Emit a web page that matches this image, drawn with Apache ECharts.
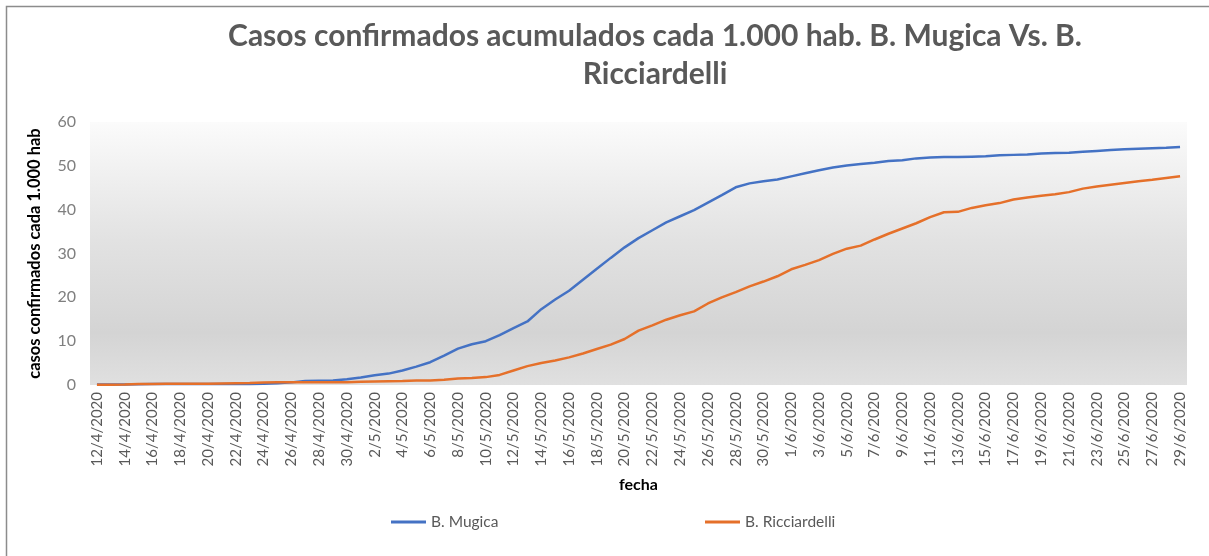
<!DOCTYPE html>
<html style="height: 100%">
<head>
<meta charset="utf-8">
<script src="https://cdn.jsdelivr.net/npm/echarts@6/dist/echarts.min.js"></script>
</head>
<body style="height: 100%; margin: 0; background: #fff">
<div id="container" style="width: 1209px; height: 556px"></div>
<script type="text/javascript">
var fechas = [
  '12/4/2020','13/4/2020','14/4/2020','15/4/2020','16/4/2020','17/4/2020','18/4/2020','19/4/2020','20/4/2020','21/4/2020',
  '22/4/2020','23/4/2020','24/4/2020','25/4/2020','26/4/2020','27/4/2020','28/4/2020','29/4/2020','30/4/2020',
  '1/5/2020','2/5/2020','3/5/2020','4/5/2020','5/5/2020','6/5/2020','7/5/2020','8/5/2020','9/5/2020','10/5/2020',
  '11/5/2020','12/5/2020','13/5/2020','14/5/2020','15/5/2020','16/5/2020','17/5/2020','18/5/2020','19/5/2020','20/5/2020',
  '21/5/2020','22/5/2020','23/5/2020','24/5/2020','25/5/2020','26/5/2020','27/5/2020','28/5/2020','29/5/2020','30/5/2020',
  '31/5/2020','1/6/2020','2/6/2020','3/6/2020','4/6/2020','5/6/2020','6/6/2020','7/6/2020','8/6/2020','9/6/2020',
  '10/6/2020','11/6/2020','12/6/2020','13/6/2020','14/6/2020','15/6/2020','16/6/2020','17/6/2020','18/6/2020','19/6/2020',
  '20/6/2020','21/6/2020','22/6/2020','23/6/2020','24/6/2020','25/6/2020','26/6/2020','27/6/2020','28/6/2020','29/6/2020'
];

var mugica = [
  0.1, 0.1, 0.1, 0.15, 0.2, 0.2, 0.2, 0.2, 0.2, 0.2,
  0.2, 0.25, 0.3, 0.4, 0.6, 0.9, 0.95, 1.0, 1.3, 1.7,
  2.2, 2.6, 3.3, 4.2, 5.2, 6.7, 8.3, 9.3, 10.0, 11.4,
  13.0, 14.5, 17.3, 19.5, 21.5, 24.0, 26.5, 29.0, 31.4, 33.5,
  35.3, 37.1, 38.5, 39.9, 41.6, 43.3, 45.1, 46.0, 46.5, 46.9,
  47.6, 48.3, 49.0, 49.6, 50.1, 50.4, 50.7, 51.1, 51.3, 51.7,
  51.9, 52.0, 52.0, 52.1, 52.2, 52.4, 52.5, 52.6, 52.8, 52.9,
  53.0, 53.2, 53.4, 53.6, 53.8, 53.9, 54.0, 54.1, 54.3
];

var ricciardelli = [
  0.05, 0.05, 0.1, 0.2, 0.25, 0.3, 0.3, 0.3, 0.3, 0.35,
  0.4, 0.45, 0.55, 0.6, 0.6, 0.6, 0.6, 0.6, 0.65, 0.75,
  0.8, 0.85, 0.9, 1.0, 1.05, 1.2, 1.5, 1.6, 1.8, 2.3,
  3.3, 4.3, 5.0, 5.6, 6.3, 7.2, 8.2, 9.2, 10.5, 12.4,
  13.6, 14.9, 15.9, 16.8, 18.6, 20.0, 21.2, 22.5, 23.6, 24.8,
  26.4, 27.4, 28.5, 29.9, 31.1, 31.8, 33.2, 34.5, 35.7, 36.9,
  38.3, 39.4, 39.5, 40.4, 41.0, 41.5, 42.3, 42.8, 43.2, 43.5,
  44.0, 44.8, 45.3, 45.7, 46.1, 46.5, 46.8, 47.2, 47.6
];

var yTicks = [0, 10, 20, 30, 40, 50, 60];

var dom = document.getElementById('container');
var myChart = echarts.init(dom);
var font = 'Lato, "Open Sans", sans-serif';

var option = {
  animation: false,
  textStyle: { fontFamily: font },
  graphic: [{
    type: 'rect',
    shape: { x: 6.5, y: 6.5, width: 1300, height: 700 },
    style: { fill: 'none', stroke: '#8c8c8c', lineWidth: 1.5 },
    silent: true
  }],
  title: {
    text: 'Casos confirmados acumulados cada 1.000 hab. B. Mugica Vs. B.\nRicciardelli',
    left: 650,
    textAlign: 'center',
    top: 12,
    textStyle: {
      fontFamily: font,
      fontSize: 30,
      fontWeight: 'bold',
      color: '#595959',
      lineHeight: 38
    }
  },
  legend: [{
    data: ['B. Mugica'],
    left: 386,
    top: 509,
    icon: 'rect',
    itemWidth: 35,
    itemHeight: 3,
    itemGap: 0,
    textStyle: { fontFamily: font, fontSize: 15.5, color: '#595959' }
  }, {
    data: ['B. Ricciardelli'],
    left: 700,
    top: 509,
    icon: 'rect',
    itemWidth: 35,
    itemHeight: 3,
    itemGap: 0,
    textStyle: { fontFamily: font, fontSize: 15.5, color: '#595959' }
  }],
  grid: {
    left: 90,
    right: 22,
    top: 122,
    bottom: 171,
    show: true,
    borderWidth: 0,
    backgroundColor: new echarts.graphic.LinearGradient(0, 0, 0, 1, [
      { offset: 0, color: '#fbfbfb' },
      { offset: 0.45, color: '#e2e2e2' },
      { offset: 0.8, color: '#d4d4d4' },
      { offset: 1, color: '#e0e0e0' }
    ])
  },
  xAxis: {
    type: 'category',
    data: fechas,
    boundaryGap: true,
    name: 'fecha',
    nameLocation: 'middle',
    nameGap: 92,
    nameTextStyle: { fontFamily: font, fontSize: 16, fontWeight: 'bold', color: '#000' },
    axisLine: { show: false },
    axisTick: { show: false },
    axisLabel: {
      interval: 1,
      rotate: 90,
      fontFamily: font,
      fontSize: 15,
      color: '#595959',
      margin: 7
    },
    splitLine: { show: false }
  },
  yAxis: {
    type: 'value',
    min: yTicks[0],
    max: yTicks[yTicks.length - 1],
    interval: 10,
    name: 'casos confirmados cada 1.000 hab',
    nameLocation: 'middle',
    nameGap: 47,
    nameTextStyle: { fontFamily: font, fontSize: 16.5, fontWeight: 'bold', color: '#000' },
    axisLine: { show: false },
    axisTick: { show: false },
    axisLabel: { fontFamily: font, fontSize: 16, color: '#7f7f7f', margin: 14 },
    splitLine: { show: false }
  },
  series: [{
    name: 'B. Mugica',
    type: 'line',
    data: mugica,
    showSymbol: false,
    symbol: 'none',
    itemStyle: { color: '#4472C4' },
    lineStyle: { color: '#4472C4', width: 2.5 }
  }, {
    name: 'B. Ricciardelli',
    type: 'line',
    data: ricciardelli,
    showSymbol: false,
    symbol: 'none',
    itemStyle: { color: '#E5702A' },
    lineStyle: { color: '#E5702A', width: 2.5 }
  }]
};

myChart.setOption(option);
</script>
</body>
</html>
